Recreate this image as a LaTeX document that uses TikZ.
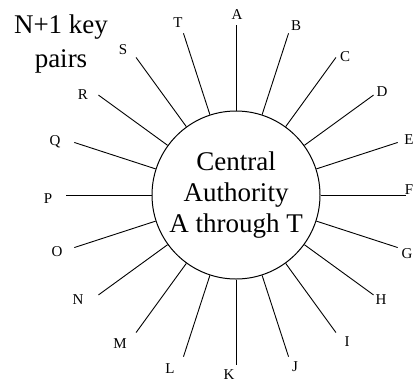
\documentclass[tikz,border=0pt]{standalone}
\usepackage{fontspec}
\setmainfont{Liberation Serif}
\usetikzlibrary{calc}
\begin{document}
\begin{tikzpicture}[x=1pt,y=-1pt,
  lbl/.style={font=\fontsize{15}{17}\selectfont, inner sep=0pt},
  spoke/.style={line width=0.9pt}]
\useasboundingbox (0,0) rectangle (414,384);
\node[circle,draw,line width=1pt,minimum size=168pt,inner sep=0pt,align=center,
  font=\fontsize{27}{31}\selectfont] (ca) at (236,195) {Central\\Authority\\A through T};
\node[align=center,inner sep=0pt,font=\fontsize{27}{34}\selectfont] (np) at (61,44) {N+1 key\\pairs};
\foreach \n/\a/\x/\y in {A/90/237/15, B/72/296/26, C/54/345/57, D/36/382/92, E/18/409/140,
  F/0/409/190, G/342/407/254, H/324/381/300, I/306/347/342, J/288/295/367, K/270/229/375,
  L/252/170/369, M/234/120/344, N/216/78/300, O/198/57/252, P/180/48/199, Q/162/55/142,
  R/144/83/95, S/126/123/50, T/108/178/23} {
  \node[lbl] (\n) at (\x,\y) {\n};
  \coordinate (e\n) at ($(ca.center)+(\a:170pt)$);
  \draw[spoke] (ca.\a) -- (e\n);
}
\end{tikzpicture}
\end{document}
